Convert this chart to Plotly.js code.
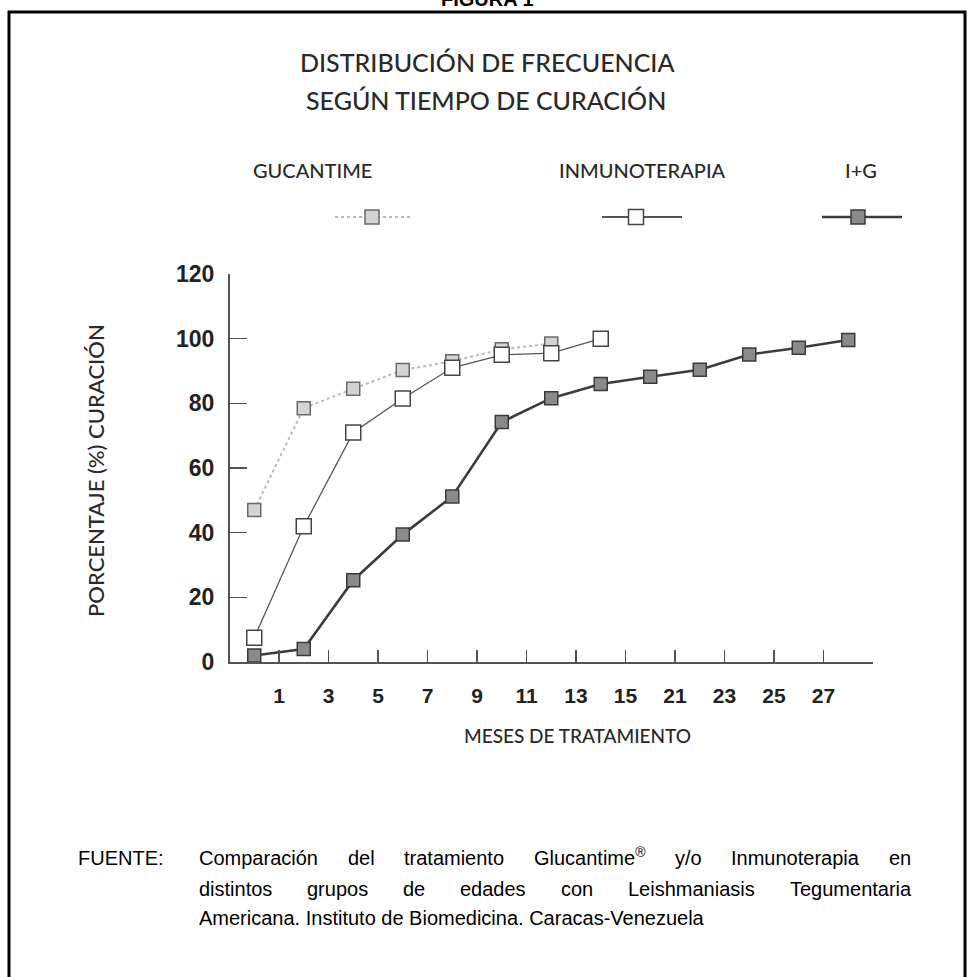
<!DOCTYPE html>
<html><head><meta charset="utf-8">
<script src="https://cdn.plot.ly/plotly-3.0.1.min.js"></script>
<style>html,body{margin:0;padding:0;background:#fff;overflow:hidden}</style>
</head><body><div id="chart" style="width:974px;height:977px"></div>
<script>
// ---- data ----
const tickLabels = ['1','3','5','7','9','11','13','15','21','23','25','27'];
const tickPositions = [0.5,1.5,2.5,3.5,4.5,5.5,6.5,7.5,8.5,9.5,10.5,11.5];
const pointPositions = [0,1,2,3,4,5,6,7,8,9,10,11,12];
const seriesNames = ['GUCANTIME','INMUNOTERAPIA','I+G'];
const gucantime = [47, 78.5, 84.5, 90.3, 93, 96.7, 98.5];
const inmunoterapia = [7.5, 42, 71, 81.5, 91, 95, 95.5, 100];
const ig = [2, 4, 25.3, 39.4, 51.2, 74.2, 81.6, 86, 88.2, 90.4, 95.1, 97.2, 99.6];
const yTicks = [0,20,40,60,80,100,120];

// ---- layout geometry (pixels) ----
const W = 974, H = 977;
const L = 230, R = 873, T = 274, B = 662;
const px = v => (v - L) / (R - L);
const py = v => (B - v) / (B - T);

const titleFont = 'Lato, "Open Sans", sans-serif';
const numFont = '"Liberation Sans", Arial, sans-serif';

const traces = [
  {x: pointPositions.slice(0, gucantime.length), y: gucantime, name: seriesNames[0],
   mode: 'lines+markers', line: {color: '#b8b8b8', width: 2, dash: 'dot'},
   marker: {symbol: 'square', size: 13, color: '#d4d4d4', line: {color: '#6a6a6a', width: 1.5}},
   cliponaxis: false},
  {x: pointPositions.slice(0, inmunoterapia.length), y: inmunoterapia, name: seriesNames[1],
   mode: 'lines+markers', line: {color: '#555', width: 1.3},
   marker: {symbol: 'square', size: 15, color: '#ffffff', line: {color: '#444', width: 1.5}},
   cliponaxis: false},
  {x: pointPositions.slice(0, ig.length), y: ig, name: seriesNames[2],
   mode: 'lines+markers', line: {color: '#3c3c3c', width: 2.6},
   marker: {symbol: 'square', size: 13, color: '#8a8a8a', line: {color: '#3a3a3a', width: 1.5}},
   cliponaxis: false}
];

const annotations = [];
const shapes = [];
function ann(text, x, y, opts) {
  annotations.push(Object.assign({text, x: px(x), y: py(y), xref: 'paper', yref: 'paper',
    showarrow: false, xanchor: 'center', yanchor: 'middle'}, opts || {}));
}
const dark = '#2a2a2a';
// figure label (cut off at top)
ann('<b>FIGURA 1</b>', 487, -1, {font: {family: numFont, size: 20, color: '#000'}});
// titles
ann('DISTRIBUCIÓN DE FRECUENCIA', 487, 62, {font: {family: titleFont, size: 25, color: dark, weight: 500}});
ann('SEGÚN TIEMPO DE CURACIÓN', 486, 100, {font: {family: titleFont, size: 25, color: dark, weight: 500}});
// legend labels
ann(seriesNames[0], 312, 170, {font: {family: titleFont, size: 20, color: dark, weight: 500}});
ann(seriesNames[1], 642, 170, {font: {family: titleFont, size: 20, color: dark, weight: 500}});
ann(seriesNames[2], 861, 170, {font: {family: titleFont, size: 20, color: dark, weight: 500}});
// axis titles
ann('PORCENTAJE (%) CURACIÓN', 95, 471, {textangle: -90, font: {family: titleFont, size: 22, color: dark, weight: 500}});
ann('MESES DE TRATAMIENTO', 577, 735, {font: {family: titleFont, size: 19, color: dark, weight: 500}});

// legend keys
function legendKey(cx, x0, x1, line, mk, sz) {
  shapes.push({type: 'line', xref: 'paper', yref: 'paper', x0: px(x0), x1: px(x1), y0: py(217), y1: py(217), line});
  shapes.push({type: 'rect', xref: 'paper', yref: 'paper', x0: px(cx - sz/2), x1: px(cx + sz/2),
    y0: py(217 + sz/2), y1: py(217 - sz/2), fillcolor: mk.color, line: mk.line});
}
legendKey(372, 335, 410, traces[0].line, traces[0].marker, 14);
legendKey(636, 602, 682, {color: '#555', width: 2}, traces[1].marker, 15);
legendKey(858, 822, 902, traces[2].line, traces[2].marker, 14);

// frame
shapes.push({type: 'rect', xref: 'paper', yref: 'paper', x0: px(9), x1: px(965), y0: py(12), y1: py(1000),
  line: {color: '#000', width: 3}, fillcolor: 'rgba(0,0,0,0)', layer: 'below'});

// footer text, justified lines (bottom-anchored so baselines align)
const footFont = '"Liberation Sans", Arial, sans-serif';
const footSize = 20;
const footOpts = {xanchor: 'left', yanchor: 'bottom', font: {family: footFont, size: footSize, color: '#000'}};
const base = y => y + 13;
ann('FUENTE:', 76, base(858), footOpts);
const cv = document.createElement('canvas').getContext('2d');
function measure(t, size) { cv.font = size + 'px ' + footFont; return cv.measureText(t).width; }
function justify(words, y, x0, x1) {
  const widths = words.map(w => w.endsWith('<sup>®</sup>') ? measure(w.replace('<sup>®</sup>',''), footSize) + measure('®', footSize*0.7) : measure(w, footSize));
  const total = widths.reduce((a,b)=>a+b,0);
  const gap = (x1 - x0 - total) / (words.length - 1);
  let x = x0;
  words.forEach((w, i) => {
    ann(w, x - 1, base(y), footOpts);
    x += widths[i] + gap;
  });
}
justify(['Comparación','del','tratamiento','Glucantime<sup>®</sup>','y/o','Inmunoterapia','en'], 858, 198, 910);
justify(['distintos','grupos','de','edades','con','Leishmaniasis','Tegumentaria'], 889, 198, 910);
ann('Americana. Instituto de Biomedicina. Caracas-Venezuela', 197, base(918), footOpts);

const layout = {
  width: W, height: H,
  margin: {l: L, r: W - R, t: T, b: H - B, pad: 0},
  paper_bgcolor: '#fff', plot_bgcolor: '#fff',
  showlegend: false,
  xaxis: {range: [-0.49, 12.5], tickmode: 'array', tickvals: tickPositions, ticktext: tickLabels,
    showline: true, linecolor: '#555', linewidth: 2, ticks: 'inside', ticklen: 12, tickwidth: 1.5, tickcolor: '#555',
    showgrid: false, zeroline: false, ticklabelstandoff: 14,
    tickfont: {family: numFont, size: 21, color: '#222', weight: 'bold'}},
  yaxis: {range: [0, 120], tickmode: 'array', tickvals: yTicks,
    showline: true, linecolor: '#555', linewidth: 2, ticks: 'inside', ticklen: 17, tickwidth: 1.5, tickcolor: '#555',
    showgrid: false, zeroline: false, ticklabelstandoff: 9,
    tickfont: {family: numFont, size: 23, color: '#222', weight: 'bold'}},
  annotations, shapes
};
Plotly.newPlot('chart', traces, layout, {displayModeBar: false, staticPlot: true});
</script></body></html>
